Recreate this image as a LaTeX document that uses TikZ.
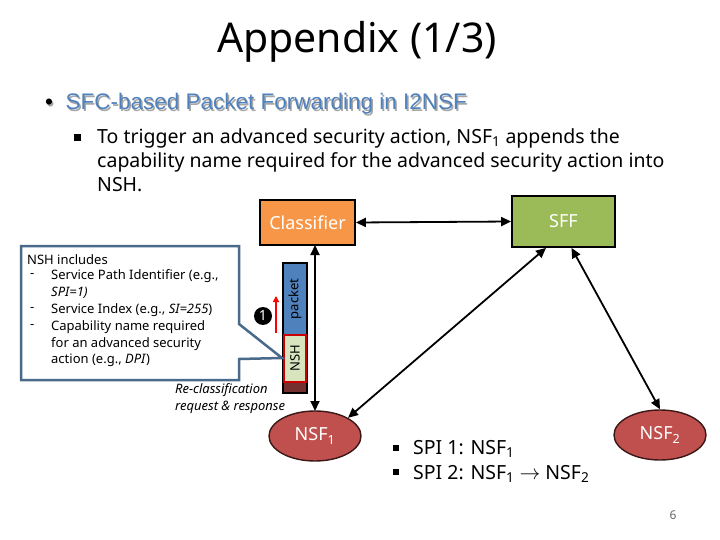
\documentclass[tikz,border=0pt]{standalone}
\usepackage{fontspec}
\setmainfont{Noto Sans}
\newfontfamily\arialf{Liberation Sans}
\usetikzlibrary{arrows.meta,shapes.geometric}
\definecolor{orng}{HTML}{F79646}
\definecolor{grn}{HTML}{9BBB59}
\definecolor{rd}{HTML}{C0504D}
\definecolor{blu}{HTML}{4F81BD}
\definecolor{nshc}{HTML}{D7E4BD}
\definecolor{callb}{HTML}{4A6A8C}
\tikzset{
  box/.style={draw=black,line width=1.8pt,minimum width=#1,text=white,font=\fontsize{18}{20}\selectfont},
  nsf/.style={ellipse,draw=black!70!rd,line width=1.4pt,fill=rd,minimum width=92pt,minimum height=50pt,text=white,font=\fontsize{18}{20}\selectfont},
  conn/.style={{Triangle[length=10pt,width=9pt]}-{Triangle[length=10pt,width=9pt]},line width=1.8pt},
  body/.style={font=\fontsize{19.5}{24}\selectfont,anchor=west,inner sep=0}
}
\begin{document}
\begin{tikzpicture}[x=1pt,y=-1pt]
\useasboundingbox (0,0) rectangle (720,540);
\node (title) at (357,42) {\fontsize{41}{46}\selectfont Appendix (1/3)};
\node[anchor=west,inner sep=0,text=black!35] (shadow) at (46.5,105.5) {\arialf\fontsize{22.5}{26}\selectfont \textbullet\ \ SFC-based Packet Forwarding in I2NSF};
\node[anchor=west,inner sep=0,text=blu] (bul) at (45,104) {\arialf\fontsize{22.5}{26}\selectfont {\color{black}\textbullet}\ \ SFC-based Packet Forwarding in I2NSF};
\fill (74,134) rectangle (81,141);
\node[body] (l1) at (97,138) {To trigger an advanced security action, NSF\textsubscript{1} appends the};
\node[body] (l2) at (97,162) {capability name required for the advanced security action into};
\node[body] (l3) at (97,185) {NSH.};

\node[box=95pt,fill=orng,minimum height=45pt] (cls) at (307.5,222.5) {Classifier};
\node[box=103pt,fill=grn,minimum height=51pt] (sff) at (563.5,221.5) {SFF};
\node[nsf] (n1) at (315,436) {NSF\textsubscript{1}};
\node[nsf] (n2) at (660,435) {NSF\textsubscript{2}};
\coordinate (c1) at (315,245);
\coordinate (c2) at (315,411);
\draw[conn] (cls.east) -- (sff.west);
\draw[conn] (c1) -- (c2);
\draw[conn] (n1.north east) -- (sff.south west -| 546,0);
\draw[conn] (sff.south) ++(8,0) coordinate (s2) (s2) -- (n2.north);

% packet bar
\fill[blu] (283,263) rectangle (307,335);
\fill[nshc] (283,335) rectangle (307,382);
\fill[black!40!rd] (283,382) rectangle (307,393);
\draw[line width=1.8pt] (283,263) rectangle (307,393);
\draw[red!80!black,line width=2.2pt] (284,335) rectangle (306,382);
\node[rotate=90,font=\fontsize{13}{14}\selectfont] (pk) at (295,299) {packet};
\node[rotate=90,font=\fontsize{13}{14}\selectfont] (nsh) at (295,358) {NSH};
\coordinate (ra) at (276,333);
\coordinate (rb) at (276,296);
\draw[red,line width=1.4pt,-{Triangle[length=6pt,width=6pt]}] (ra) -- (rb);
\node[circle,fill=black,text=white,inner sep=0,minimum size=18pt,font=\bfseries\fontsize{14}{14}\selectfont] (one) at (263,316) {1};

% callout
\draw[callb,line width=2.5pt,fill=white,line join=miter] (21,246) -- (239,246) -- (239,324) -- (282,358) -- (239,359) -- (239,380) -- (21,380) -- cycle;
\begin{scope}[font=\fontsize{13}{14}\selectfont]
\node[anchor=west,inner sep=0] (t1) at (27,260) {NSH includes};
\node[anchor=west,inner sep=0] (t2) at (30,276) {-};
\node[anchor=west,inner sep=0] (t3) at (51,276) {Service Path Identifier (e.g.,};
\node[anchor=west,inner sep=0] (t4) at (51,293) {\itshape SPI=1)};
\node[anchor=west,inner sep=0] (t5) at (30,310) {-};
\node[anchor=west,inner sep=0] (t6) at (51,310) {Service Index (e.g., \textit{SI=255})};
\node[anchor=west,inner sep=0] (t7) at (30,327) {-};
\node[anchor=west,inner sep=0] (t8) at (51,327) {Capability name required};
\node[anchor=west,inner sep=0] (t9) at (51,344) {for an advanced security};
\node[anchor=west,inner sep=0] (t10) at (51,360) {action (e.g., \textit{DPI})};
\node[anchor=west,inner sep=0] (r1) at (175,390) {\itshape Re-classification};
\node[anchor=west,inner sep=0] (r2) at (175,407) {\itshape request \& response};
\end{scope}

\fill (393,445) rectangle (399,451);
\fill (393,469) rectangle (399,475);
\node[body] (s1) at (413,449) {SPI 1: NSF\textsubscript{1}};
\node[body] (s2t) at (413,474) {SPI 2: NSF\textsubscript{1} $\rightarrow$ NSF\textsubscript{2}};
\node[text=black!60,font=\fontsize{12}{12}\selectfont] (pg) at (673,515) {6};
\end{tikzpicture}
\end{document}
